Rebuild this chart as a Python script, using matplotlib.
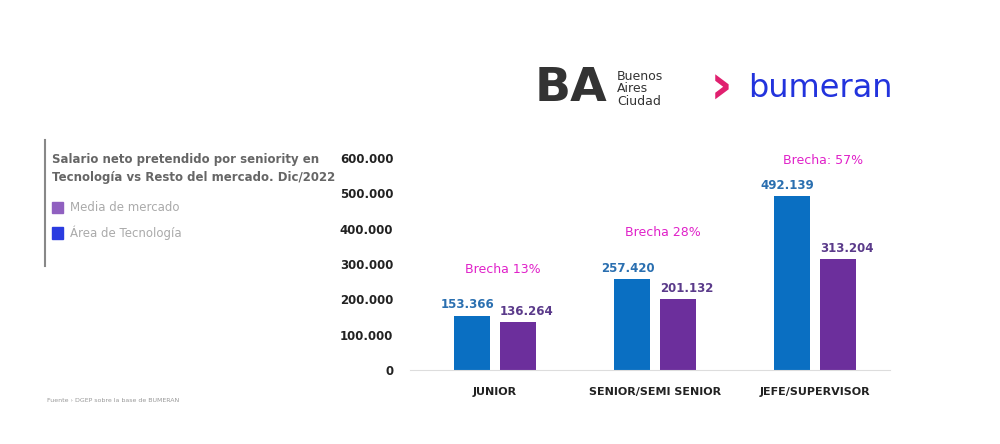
import matplotlib.pyplot as plt
import numpy as np

categorias = ['JUNIOR', 'SENIOR/SEMI SENIOR', 'JEFE/SUPERVISOR']
tecnologia = [153366, 257420, 492139]
mercado = [136264, 201132, 313204]
brechas = ['Brecha 13%', 'Brecha 28%', 'Brecha: 57%']
brecha_y = [283000, 390000, 594000]
yticks = [0, 100000, 200000, 300000, 400000, 500000, 600000]

azul = '#0a6fc2'
violeta = '#6c2f9c'

def fmt(v):
    return f'{v:,}'.replace(',', '.')

fig = plt.figure(figsize=(10, 4.44), dpi=100)
ax = fig.add_axes([0.41, 0.167, 0.48, 0.477])
x = np.arange(len(categorias))
w = 0.225
ax.bar(x - 0.144, tecnologia, w, color=azul)
ax.bar(x + 0.144, mercado, w, color=violeta)
for i in range(len(x)):
    ax.text(x[i] - 0.17, tecnologia[i] + 12000, fmt(tecnologia[i]), ha='center', va='bottom',
            color='#2a6fb0', fontsize=8.5, fontweight='bold')
    ax.text(x[i] + 0.2, mercado[i] + 12000, fmt(mercado[i]), ha='center', va='bottom',
            color='#5a3a8a', fontsize=8.5, fontweight='bold')
    ax.text(x[i] + 0.05, brecha_y[i], brechas[i], ha='center', va='center',
            color='#e021c9', fontsize=9, clip_on=False)
ax.set_xlim(-0.53, 2.47)
ax.set_ylim(0, 600000)
ax.set_yticks(yticks)
ax.set_yticklabels([fmt(v) for v in yticks], fontsize=8.5, fontweight='bold', color='#222222')
ax.set_xticks(x)
ax.set_xticklabels(categorias, fontsize=8, fontweight='bold', color='#222222')
ax.tick_params(length=0, pad=12)
for s in ['top', 'right', 'left']:
    ax.spines[s].set_visible(False)
ax.spines['bottom'].set_color('#dddddd')

# panel izquierdo
fig.add_artist(plt.Line2D([0.045, 0.045], [0.4, 0.685], color='#888888', lw=1.5))
fig.text(0.052, 0.62, 'Salario neto pretendido por seniority en\nTecnología vs Resto del mercado. Dic/2022',
         fontsize=8.5, fontweight='bold', color='#666666', va='center', linespacing=1.5)
fig.patches.append(plt.Rectangle((0.052, 0.52), 0.011, 0.026, color='#9060c0', transform=fig.transFigure))
fig.text(0.07, 0.533, 'Media de mercado', fontsize=8.5, color='#aaaaaa', va='center')
fig.patches.append(plt.Rectangle((0.052, 0.462), 0.011, 0.026, color='#2a3be0', transform=fig.transFigure))
fig.text(0.07, 0.475, 'Área de Tecnología', fontsize=8.5, color='#aaaaaa', va='center')
fig.text(0.047, 0.095, 'Fuente › DGEP sobre la base de BUMERAN', fontsize=4.5, color='#999999')

# logos
fig.text(0.535, 0.8, 'BA', fontsize=34, fontweight='heavy', color='#333333', va='center')
fig.text(0.617, 0.8, 'Buenos\nAires\nCiudad', fontsize=9, color='#333333', va='center', linespacing=0.95)
fig.text(0.71, 0.8, '›', fontsize=40, fontweight='bold', color='#e0206f', va='center')
fig.text(0.748, 0.8, 'bumeran', fontsize=23, color='#2233dd', va='center')

fig.savefig('out.png', dpi=100)
